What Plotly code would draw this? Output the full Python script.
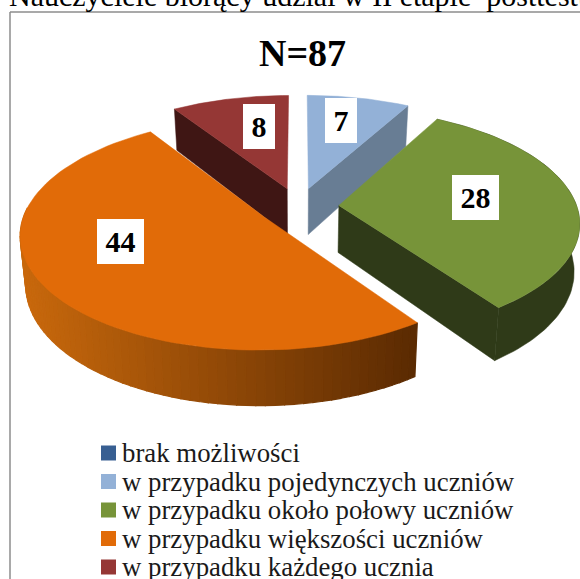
import numpy as np
import plotly.graph_objects as go

title_text = "N=87"
top_text = "Nauczyciele biorący udział w II etapie  posttestu"
categories = ["brak możliwości", "w przypadku pojedynczych uczniów", "w przypadku około połowy uczniów",
              "w przypadku większości uczniów", "w przypadku każdego ucznia"]
values = [0, 7, 28, 44, 8]
top_colors = ["#385f92", "#93b1d7", "#779439", "#e16b08", "#953735"]
wall_colors = ["#25406a", "#687d94", "#2f3a18", "#e16b08", "#3f1614"]

# projection of the tilted pie
CX, CY, F, G, K, H, PULL, SHRINK = 298.5, 206.5, 238, 111, 0.14, 47, 0.17, 0.98


def project(ang_deg, r, bis_deg, depth=0.0):
    a, b = np.radians(ang_deg), np.radians(bis_deg)
    X = PULL * np.sin(b) + r * np.sin(a)
    Y = PULL * np.cos(b) + r * np.cos(a)
    d = 1 + K * Y
    sx, sy = CX + F * X / d, CY - G * Y / d
    if depth:
        sx = CX + (sx - CX) * SHRINK
        sy = sy + H / d
    return sx, sy


def poly(points, color, width=0.5):
    xs, ys = zip(*points)
    return go.Scatter(x=list(xs) + [xs[0]], y=list(ys) + [ys[0]], mode="lines", fill="toself",
                      fillcolor=color, line=dict(color=color, width=width),
                      hoverinfo="skip", showlegend=False)


def lerp(c1, c2, t):
    a = [int(c1[i:i + 2], 16) for i in (1, 3, 5)]
    b = [int(c2[i:i + 2], 16) for i in (1, 3, 5)]
    return "rgb(%d,%d,%d)" % tuple(round(p + (q - p) * t) for p, q in zip(a, b))


total = sum(values)
edges = np.cumsum([0] + values) / total * 360
slices = {i: (edges[i], edges[i + 1], (edges[i] + edges[i + 1]) / 2) for i in range(len(values))}


def top_poly(i):
    s, e, b = slices[i]
    pts = [project(0, 0, b)] + [project(t, 1, b) for t in np.linspace(s, e, 80)]
    return poly(pts, top_colors[i])


def radial_wall(i, ang):
    s, e, b = slices[i]
    return poly([project(0, 0, b), project(ang, 1, b), project(ang, 1, b, 1), project(0, 0, b, 1)], wall_colors[i])


fig = go.Figure()
# back slices
fig.add_trace(radial_wall(1, slices[1][1]))
fig.add_trace(top_poly(1))
fig.add_trace(radial_wall(4, slices[4][0]))
fig.add_trace(top_poly(4))
# green
s, e, b = slices[2]
fig.add_trace(radial_wall(2, e))
ts = np.linspace(s, e, 80)
fig.add_trace(poly([project(t, 1, b) for t in ts] + [project(t, 1, b, 1) for t in ts[::-1]], wall_colors[2]))
fig.add_trace(top_poly(2))
# orange: shaded outer wall in narrow bands
s, e, b = slices[3]
ts = np.linspace(s, s + 130, 66)
xl, xr = project(270, 1, b)[0], project(s, 1, b)[0]
for t0, t1 in zip(ts[:-1], ts[1:]):
    u = float(np.clip((project((t0 + t1) / 2, 1, b)[0] - xl) / (xr - xl), 0, 1))
    fig.add_trace(poly([project(t0, 1, b), project(t1, 1, b), project(t1, 1, b, 1), project(t0, 1, b, 1)],
                       lerp("#c8680c", "#5a2a02", u), 1.2))
fig.add_trace(top_poly(3))

# legend: swatches and real text, rows tighter than a Plotly legend allows
LEG_X, LEG_TX, LEG_Y, LEG_DY = 108.5, 120, 453, 28.5
fig.add_trace(go.Scatter(x=[LEG_X] * len(categories), y=[LEG_Y + k * LEG_DY for k in range(len(categories))],
                         mode="markers", marker=dict(symbol="square", size=15, color=top_colors),
                         hoverinfo="skip", showlegend=False))
for k, name in enumerate(categories):
    fig.add_annotation(x=LEG_TX, y=LEG_Y + k * LEG_DY, xref="x", yref="y", text=name, showarrow=False,
                       xanchor="left", font=dict(family="Liberation Serif", size=26.8, color="#1a1a1a"))

# value labels
label_place = {1: (0.7, -4, -2), 2: (0.58, 0, -5), 3: (0.7, 6, -23), 4: (0.7, 13, 3)}
for i, (r, dx, dy) in label_place.items():
    sx, sy = project(slices[i][2], r, slices[i][2])
    fig.add_annotation(x=sx, y=sy, xref="x", yref="y", text=f"<b>{values[i]}</b>", showarrow=False,
                       xshift=dx, yshift=-dy, width=32 if values[i] < 10 else 47, height=45, bgcolor="white",
                       borderpad=0, borderwidth=0,
                       font=dict(family="Liberation Serif", size=30, color="black"))

fig.add_annotation(x=302, y=53, xref="x", yref="y", text=f"<b>{title_text}</b>", showarrow=False,
                   font=dict(family="Liberation Serif", size=38, color="black"))
fig.add_annotation(x=7 / 580, y=1 - 14 / 579, xref="paper", yref="paper", text=top_text, showarrow=False,
                   xanchor="left", yanchor="bottom", font=dict(family="Liberation Serif", size=30, color="black"))

fig.update_layout(
    width=580, height=579, margin=dict(l=0, r=0, t=0, b=0, autoexpand=False),
    paper_bgcolor="white", plot_bgcolor="white", showlegend=False,
    xaxis=dict(range=[0, 580], visible=False, fixedrange=True),
    yaxis=dict(range=[579, 0], visible=False, fixedrange=True),
    shapes=[
        dict(type="line", x0=10, x1=10, y0=12, y1=579, xref="x", yref="y", line=dict(color="#8c8c8c", width=1.5)),
        dict(type="line", x0=10, x1=580, y0=12, y1=12, xref="x", yref="y", line=dict(color="#8c8c8c", width=1.5)),
    ],
)
fig.write_html("out.html", config={"displayModeBar": False},
               post_script="document.body.style.margin='0';document.body.style.overflow='hidden';")
